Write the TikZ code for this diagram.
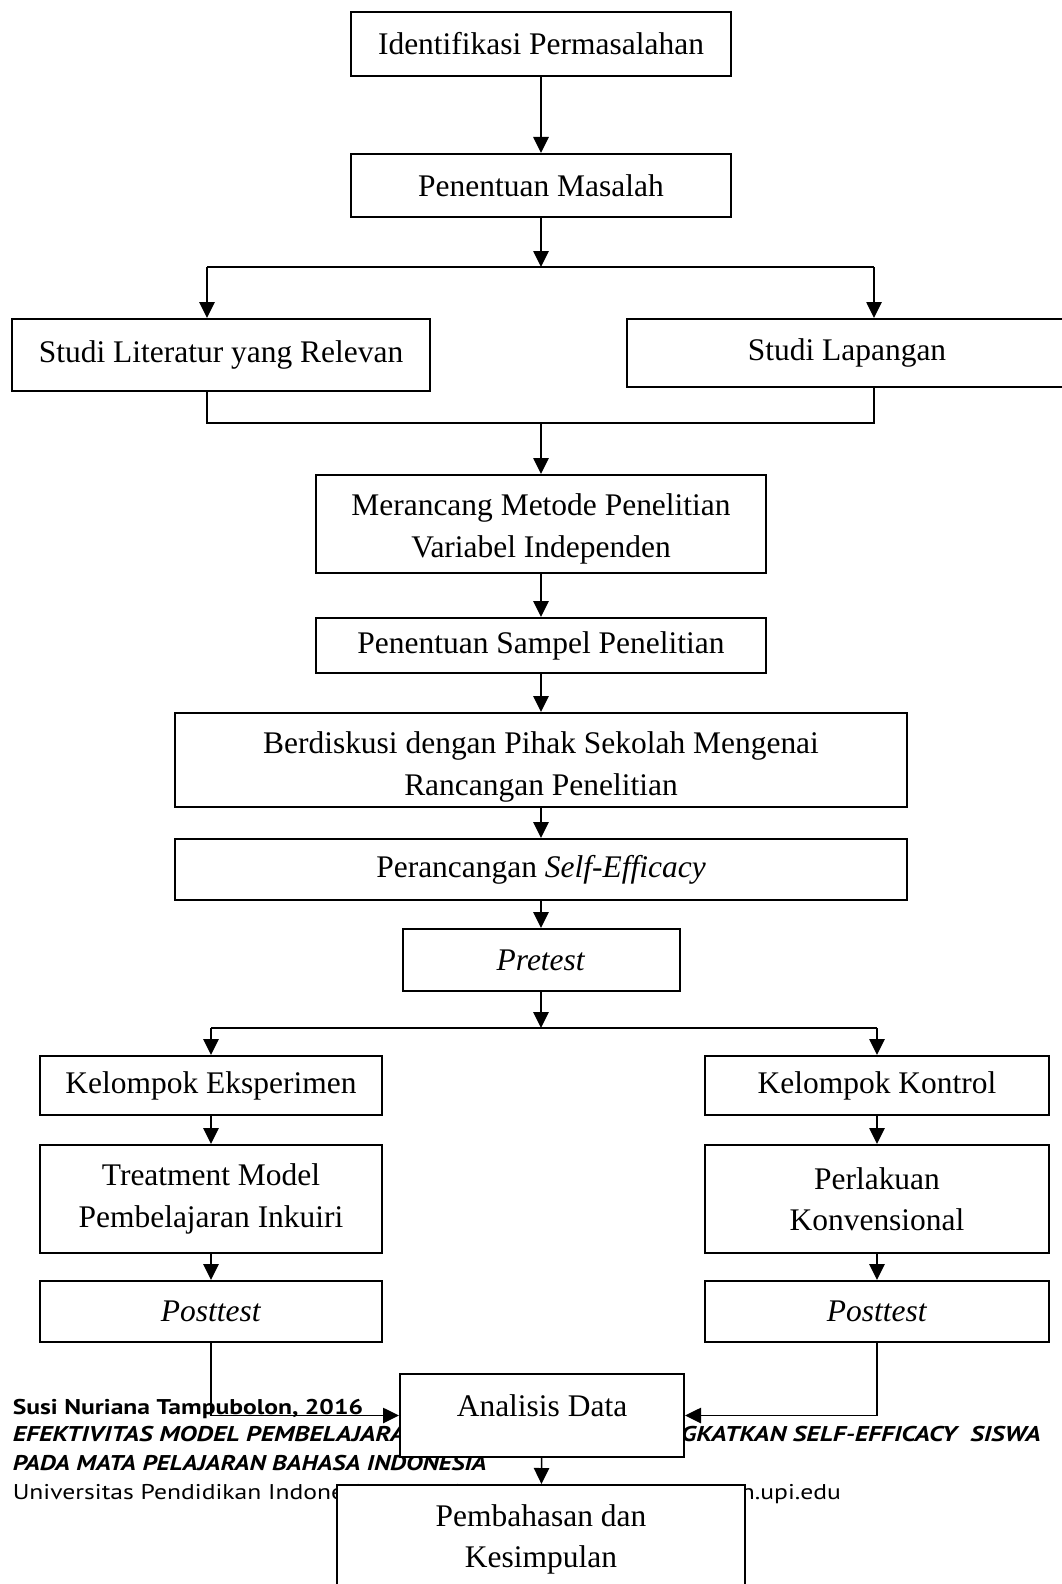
\documentclass[tikz,border=0pt]{standalone}
\usepackage{fontspec}
\setmainfont{Liberation Serif}
\newfontfamily\footfont{PT Sans}[FakeStretch=1.2]
\newfontfamily\foottitle{PT Sans}[FakeStretch=1.24]
\usetikzlibrary{arrows.meta}

\tikzset{every picture/.style={line width=1.2pt}}
\tikzset{
  procbox/.style={draw, line width=1.5pt, fill=white, align=center, inner sep=0pt,
    font=\fontsize{23.6}{31}\selectfont},
  arr/.style={-{Triangle[length=12pt,width=11.5pt]}},
  footline/.style={anchor=base west, inner sep=0pt}
}

\begin{document}
\begin{tikzpicture}[x=0.75pt,y=0.75pt,yscale=-1,xscale=1]
\useasboundingbox (0,0) rectangle (1062,1584);

% Footer Text
\node [footline, font=\footfont\bfseries\fontsize{16}{20}\selectfont] (footName) at (12,1414) {Susi Nuriana Tampubolon, 2016};
\node [footline, font=\foottitle\bfseries\itshape\fontsize{16}{20}\selectfont] (footTitleA) at (12,1441) {EFEKTIVITAS MODEL PEMBELAJARAN INKUIRI UNTUK MENINGKATKAN SELF-EFFICACY \ SISWA};
\node [footline, font=\footfont\bfseries\itshape\fontsize{16}{20}\selectfont] (footTitleB) at (12,1470) {PADA MATA PELAJARAN BAHASA INDONESIA};
\node [footline, font=\footfont\fontsize{16}{20}\selectfont] (footUniv) at (12,1499) {Universitas Pendidikan Indonesia | repository.upi.edu | perpustakaan.upi.edu};

% Boxes
\node [procbox, minimum width=285pt, minimum height=48pt] (ident) at (541,44) {Identifikasi Permasalahan};
\node [procbox, minimum width=285pt, minimum height=47.25pt] (masalah) at (541,185.5) {Penentuan Masalah};
\node [procbox, minimum width=313.5pt, minimum height=54pt] (literatur) at (221,355) {Studi Literatur yang Relevan};
\node [procbox, minimum width=330pt, minimum height=51pt] (lapangan) at (847,353) {Studi Lapangan};
\node [procbox, minimum width=337.5pt, minimum height=73.5pt, text height=54.6pt] (rancang) at (541,524) {Merancang Metode Penelitian\\Variabel Independen};
\node [procbox, minimum width=337.5pt, minimum height=41.25pt] (sampel) at (541,645.5) {Penentuan Sampel Penelitian};
\node [procbox, minimum width=549pt, minimum height=70.5pt, text height=57.6pt] (diskusi) at (541,760) {Berdiskusi dengan Pihak Sekolah Mengenai\\Rancangan Penelitian};
\node [procbox, minimum width=549pt, minimum height=45.75pt] (selfeff) at (541,869.5) {Perancangan \textit{Self-Efficacy}};
\node [procbox, minimum width=207.75pt, minimum height=46.5pt] (pretest) at (541,960) {\textit{Pretest}};
\node [procbox, minimum width=256.5pt, minimum height=44.25pt] (eksp) at (211,1085.5) {Kelompok Eksperimen};
\node [procbox, minimum width=258pt, minimum height=44.25pt] (kontrol) at (877,1085.5) {Kelompok Kontrol};
\node [procbox, minimum width=256.5pt, minimum height=81pt] (treat) at (211,1199) {Treatment Model\\Pembelajaran Inkuiri};
\node [procbox, minimum width=258pt, minimum height=81pt] (perlakuan) at (877,1199) {Perlakuan\\Konvensional};
\node [procbox, minimum width=256.5pt, minimum height=45.75pt] (postA) at (211,1311.5) {\textit{Posttest}};
\node [procbox, minimum width=258pt, minimum height=45.75pt] (postB) at (877,1311.5) {\textit{Posttest}};
\node [procbox, minimum width=213pt, minimum height=62.25pt, text depth=15pt] (analisis) at (542,1415.5) {Analisis Data};
\node [procbox, minimum width=306pt, minimum height=77.25pt, text height=51.6pt] (bahas) at (541,1536.5) {Pembahasan dan\\Kesimpulan};

% Junctions
\coordinate (splitTop) at (541,267);
\coordinate (splitL) at (207,267);
\coordinate (splitR) at (874,267);
\coordinate (mergeL) at (207,423);
\coordinate (mergeR) at (874,423);
\coordinate (mergeM) at (541,423);
\coordinate (splitMid) at (541,1028);

% Connectors
\draw [arr] (ident) -- (masalah);
\draw [arr] (masalah) -- (splitTop);
\draw (splitL) -- (splitR);
\draw [arr] (splitL) -- (splitL |- literatur.north);
\draw [arr] (splitR) -- (splitR |- lapangan.north);
\draw (splitL |- literatur.south) -- (mergeL) -- (mergeR) -- (splitR |- lapangan.south);
\draw [arr] (mergeM) -- (rancang);
\draw [arr] (rancang) -- (sampel);
\draw [arr] (sampel) -- (diskusi);
\draw [arr] (diskusi) -- (selfeff);
\draw [arr] (selfeff) -- (pretest);
\draw [arr] (pretest) -- (splitMid);
\draw (eksp.north |- splitMid) -- (kontrol.north |- splitMid);
\draw [arr] (eksp.north |- splitMid) -- (eksp);
\draw [arr] (kontrol.north |- splitMid) -- (kontrol);
\draw [arr] (eksp) -- (treat);
\draw [arr] (treat) -- (postA);
\draw [arr] (kontrol) -- (perlakuan);
\draw [arr] (perlakuan) -- (postB);
\draw [arr] (postA.south) |- (analisis.west);
\draw [arr] (postB.south) |- (analisis.east);
\draw [arr] (analisis) -- (bahas);

\end{tikzpicture}
\end{document}
